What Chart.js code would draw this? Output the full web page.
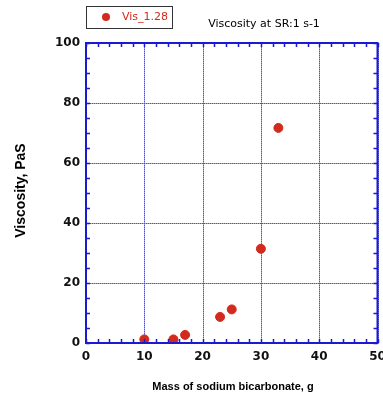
<!DOCTYPE html>
<html><head><meta charset="utf-8">
<script src="https://cdn.jsdelivr.net/npm/chart.js@4/dist/chart.umd.min.js"></script>
<style>html,body{margin:0;padding:0;background:#fff}#wrap{width:383px;height:398px}</style>
</head><body><div id="wrap"><canvas id="c" width="383" height="398"></canvas></div>
<script>
const seriesLabel = "Vis_1.28";
const chartTitle = "Viscosity at SR:1 s-1";
const xTitle = "Mass of sodium bicarbonate, g";
const yTitle = "Viscosity, PaS";
const massG = [10, 15, 17, 23, 25, 30, 33];
const viscosity = [1.2, 1.2, 2.7, 8.7, 11.2, 31.4, 71.7];
const xTickValues = [0, 10, 20, 30, 40, 50];
const yTickValues = [0, 20, 40, 60, 80, 100];
const xMinorStep = 2;
const yMinorStep = 5;

const BLUE = "#1a1ad2";
const GRID = "#4a4af2";
const GRID_LIGHT = "#a4a4f6";
const RED = "#d22a1c";
const FONT = "'DejaVu Sans', sans-serif";
const TFONT = "'Liberation Sans', Arial, sans-serif";

function gridPath(ctx, a, xs, ys) {
  ctx.beginPath();
  xTickValues.forEach(v => {
    const px = Math.round(xs.getPixelForValue(v)) + 0.5;
    ctx.moveTo(px, a.top); ctx.lineTo(px, a.bottom);
  });
  yTickValues.forEach(v => {
    const py = Math.round(ys.getPixelForValue(v)) + 0.5;
    ctx.moveTo(a.left, py); ctx.lineTo(a.right, py);
  });
}

const decor = {
  id: "decor",
  beforeDatasetsDraw(chart) {
    const ctx = chart.ctx, a = chart.chartArea;
    const xs = chart.scales.x, ys = chart.scales.y;
    ctx.save();
    ctx.lineWidth = 1;
    ctx.strokeStyle = GRID_LIGHT; ctx.setLineDash([]);
    gridPath(ctx, a, xs, ys); ctx.stroke();
    ctx.strokeStyle = GRID; ctx.setLineDash([1, 1]);
    gridPath(ctx, a, xs, ys); ctx.stroke();
    ctx.restore();
  },
  afterDraw(chart) {
    const ctx = chart.ctx, a = chart.chartArea;
    const xs = chart.scales.x, ys = chart.scales.y;
    ctx.save();
    ctx.strokeStyle = BLUE; ctx.lineWidth = 2;
    ctx.strokeRect(a.left, a.top, a.right - a.left, a.bottom - a.top);
    ctx.lineWidth = 1.5;
    ctx.beginPath();
    for (let v = xs.min; v <= xs.max + 1e-9; v += xMinorStep) {
      const px = Math.round(xs.getPixelForValue(v)) + 0.5;
      ctx.moveTo(px, a.bottom); ctx.lineTo(px, a.bottom - 4);
      ctx.moveTo(px, a.top); ctx.lineTo(px, a.top + 4);
    }
    for (let v = ys.min; v <= ys.max + 1e-9; v += yMinorStep) {
      const py = Math.round(ys.getPixelForValue(v)) + 0.5;
      ctx.moveTo(a.left, py); ctx.lineTo(a.left + 4, py);
      ctx.moveTo(a.right, py); ctx.lineTo(a.right - 4, py);
    }
    ctx.stroke();
    ctx.lineWidth = 1; ctx.strokeStyle = "#333";
    ctx.strokeRect(86.5, 6.5, 86, 22);
    ctx.fillStyle = RED;
    ctx.beginPath(); ctx.arc(106, 17, 4, 0, Math.PI * 2); ctx.fill();
    ctx.font = "11px " + FONT; ctx.textBaseline = "middle"; ctx.textAlign = "left";
    ctx.fillText(seriesLabel, 122, 17.5);
    ctx.fillStyle = "#000"; ctx.textAlign = "center";
    ctx.font = "11px " + FONT;
    ctx.fillText(chartTitle, 264, 24.5);
    ctx.font = "bold 11px " + TFONT;
    ctx.fillText(xTitle, 233, 387);
    ctx.translate(21, 190.5);
    ctx.rotate(-Math.PI / 2);
    ctx.font = "bold 14px " + TFONT;
    ctx.fillText(yTitle, 0, 0);
    ctx.restore();
  }
};

new Chart(document.getElementById("c"), {
  type: "scatter",
  data: {
    datasets: [{
      label: seriesLabel,
      data: massG.map((x, i) => ({ x: x, y: viscosity[i] })),
      backgroundColor: RED,
      borderColor: RED,
      pointRadius: 4.5,
      pointHoverRadius: 4.5
    }]
  },
  plugins: [decor],
  options: {
    responsive: false,
    animation: false,
    layout: { padding: { top: 43, right: 4, left: 0, bottom: 0 } },
    plugins: { legend: { display: false }, title: { display: false }, tooltip: { enabled: false } },
    scales: {
      x: {
        type: "linear", min: 0, max: 50,
        afterBuildTicks: s => { s.ticks = xTickValues.map(v => ({ value: v })); },
        afterFit: s => { s.height = 55; s.paddingLeft = 0; s.paddingRight = 0; },
        ticks: { color: "#111", font: { family: FONT, size: 12, weight: "bold" }, padding: 7, maxRotation: 0, autoSkip: false },
        grid: { display: false, drawTicks: false },
        border: { display: false }
      },
      y: {
        type: "linear", min: 0, max: 100,
        afterBuildTicks: s => { s.ticks = yTickValues.map(v => ({ value: v })); },
        afterFit: s => { s.width = 86; s.paddingTop = 0; s.paddingBottom = 0; },
        ticks: { color: "#111", font: { family: FONT, size: 12, weight: "bold" }, padding: 6, autoSkip: false },
        grid: { display: false, drawTicks: false },
        border: { display: false }
      }
    }
  }
});
</script></body></html>
